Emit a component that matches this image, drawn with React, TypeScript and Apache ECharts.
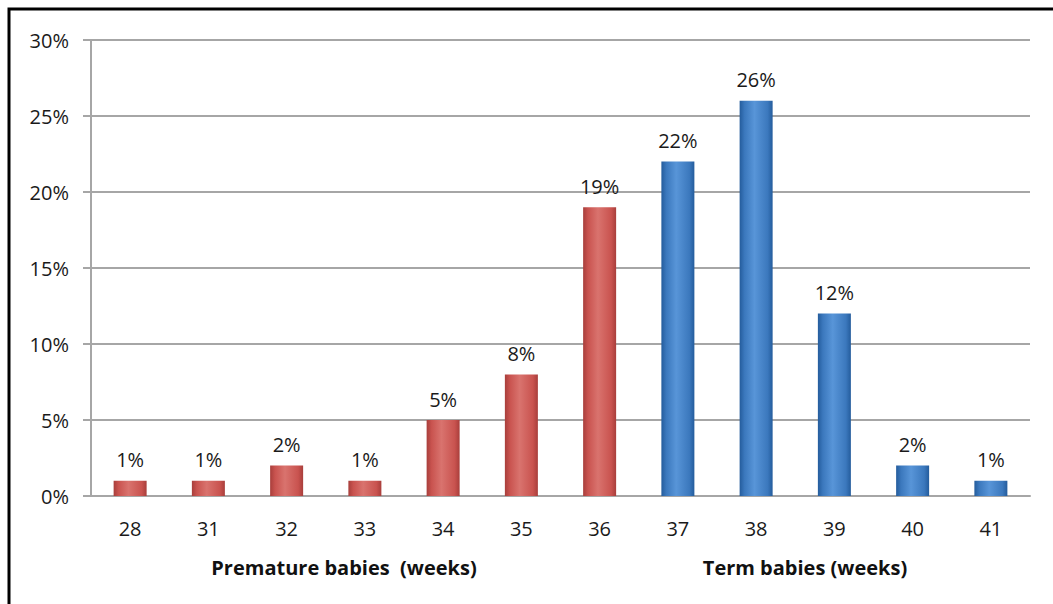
import React, { useEffect, useRef } from "react";
import * as echarts from "echarts";

const categories = ["28", "31", "32", "33", "34", "35", "36", "37", "38", "39", "40", "41"];
const values = [1, 1, 2, 1, 5, 8, 19, 22, 26, 12, 2, 1];
const groups = ["pre", "pre", "pre", "pre", "pre", "pre", "pre", "term", "term", "term", "term", "term"];
const yTicks = [0, 5, 10, 15, 20, 25, 30];
const groupTitles = ["Premature babies  (weeks)", "Term babies (weeks)"];

const FONT = "'Open Sans', 'Liberation Sans', sans-serif";

const redGrad = () =>
  new echarts.graphic.LinearGradient(0, 0, 1, 0, [
    { offset: 0, color: "#a83e3b" },
    { offset: 0.15, color: "#c9534f" },
    { offset: 0.45, color: "#d9736e" },
    { offset: 0.85, color: "#c9534f" },
    { offset: 1, color: "#a83e3b" },
  ]);
const blueGrad = () =>
  new echarts.graphic.LinearGradient(0, 0, 1, 0, [
    { offset: 0, color: "#245c9c" },
    { offset: 0.15, color: "#3b78bd" },
    { offset: 0.45, color: "#5895d8" },
    { offset: 0.85, color: "#3b78bd" },
    { offset: 1, color: "#245c9c" },
  ]);

export default function App() {
  const ref = useRef<HTMLDivElement>(null);
  useEffect(() => {
    if (!ref.current) return;
    const chart = echarts.init(ref.current, undefined, { renderer: "svg" });
    chart.setOption({
      animation: false,
      backgroundColor: "#ffffff",
      grid: { left: 91, right: 23, top: 40, bottom: 108, containLabel: false },
      xAxis: {
        type: "category",
        data: categories,
        axisLine: { lineStyle: { color: "#a6a6a6", width: 2 } },
        axisTick: { show: false },
        axisLabel: { color: "#1a1a1a", fontSize: 20, fontFamily: FONT, margin: 22 },
      },
      yAxis: {
        type: "value",
        min: 0,
        max: 30,
        interval: 5,
        axisLine: { show: true, lineStyle: { color: "#a6a6a6", width: 2 } },
        axisTick: { show: true, length: 8, lineStyle: { color: "#a6a6a6", width: 2 } },
        splitLine: { lineStyle: { color: "#a6a6a6", width: 2 } },
        axisLabel: {
          color: "#1a1a1a",
          fontSize: 20,
          fontFamily: FONT,
          margin: 22,
          formatter: (v: number) => (yTicks.includes(v) ? v + "%" : ""),
        },
      },
      series: [
        {
          type: "bar",
          barWidth: 33,
          data: values.map((v, i) => ({
            value: v,
            itemStyle: {
              color: groups[i] === "pre" ? redGrad() : blueGrad(),
            },
          })),
          label: {
            show: true,
            position: "top",
            distance: 11,
            color: "#1a1a1a",
            fontSize: 20,
            fontFamily: FONT,
            formatter: (p: any) => p.value + "%",
          },
        },
      ],
      graphic: [
        {
          type: "text",
          x: 344,
          y: 567,
          style: {
            text: groupTitles[0],
            fontSize: 20,
            fontWeight: "bold",
            fontFamily: FONT,
            fill: "#111",
            align: "center",
            verticalAlign: "middle",
          },
        },
        {
          type: "text",
          x: 805,
          y: 567,
          style: {
            text: groupTitles[1],
            fontSize: 20,
            fontWeight: "bold",
            fontFamily: FONT,
            fill: "#111",
            align: "center",
            verticalAlign: "middle",
          },
        },
        {
          type: "polyline",
          shape: { points: [[9, 620], [9, 9], [1060, 9]] },
          style: { stroke: "#000", lineWidth: 3, fill: "none" },
          silent: true,
        },
      ],
    });
    return () => chart.dispose();
  }, []);
  return (
    <div
      ref={ref}
      style={{ position: "fixed", left: 0, top: 0, width: 1053, height: 604, background: "#fff" }}
    />
  );
}
